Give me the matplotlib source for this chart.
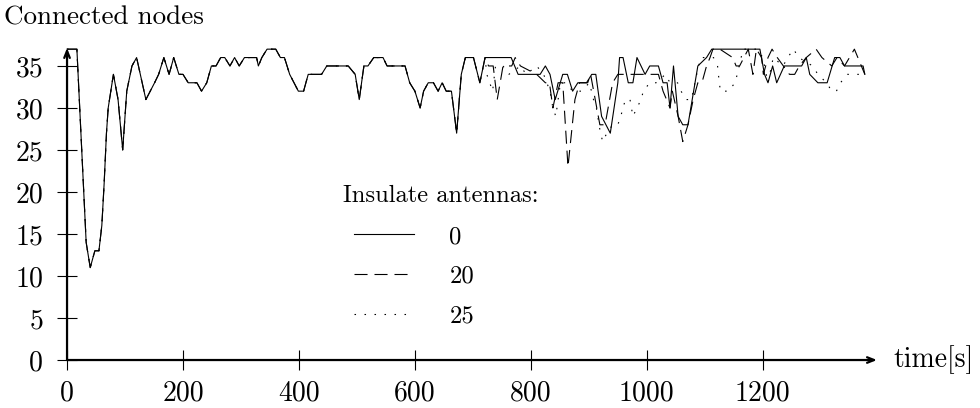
import numpy as np
import matplotlib
matplotlib.use("Agg")
import matplotlib.pyplot as plt

plt.rcParams["font.family"] = ["cmr10", "DejaVu Serif"]
plt.rcParams["mathtext.fontset"] = "cm"
plt.rcParams["axes.formatter.use_mathtext"] = True
plt.rcParams["lines.scale_dashes"] = False

# shared part: all three runs coincide until ~720 s
t_common = [0, 17, 33, 40, 48, 55, 60, 64, 68, 71, 80, 88, 96, 103, 112, 120, 136, 151, 158, 167,
            176, 184, 193, 200, 209, 224, 232, 241, 249, 257, 265, 272, 281, 289, 297, 306, 327,
            330, 336, 345, 360, 368, 375, 384, 399, 408, 416, 439, 448, 485, 497, 504, 512, 519,
            529, 545, 552, 583, 591, 600, 609, 615, 623, 632, 640, 647, 654, 663, 672, 680, 687,
            701, 712, 721]
n_common = [37, 37, 14, 11, 13, 13, 16, 21, 27, 30, 34, 31, 25, 32, 35, 36, 31, 33, 34, 36,
            34, 36, 34, 34, 33, 33, 32, 33, 35, 35, 36, 36, 35, 36, 35, 36, 36,
            35, 36, 37, 37, 36, 36, 34, 32, 32, 34, 34, 35, 35, 34, 31, 35, 35,
            36, 36, 35, 35, 33, 32, 30, 32, 33, 33, 32, 33, 32, 32, 27, 34, 36,
            36, 33, 36]

# insulate antennas = 0
t_0 = [766, 778, 816, 825, 833, 842, 855, 863, 872, 881, 896, 905, 912, 922, 937, 950, 953, 959,
       968, 976, 983, 997, 1005, 1020, 1028, 1035, 1040, 1046, 1054, 1062, 1071, 1088, 1103, 1112,
       1195, 1203, 1209, 1217, 1224, 1237, 1267, 1275, 1281, 1295, 1311, 1324, 1333, 1341, 1373, 1376]
n_0 = [36, 34, 34, 35, 34, 31, 34, 34, 32, 33, 33, 34, 34, 29, 27, 33, 36, 36,
       33, 33, 36, 34, 35, 35, 33, 33, 30, 35, 29, 28, 28, 35, 36, 37,
       37, 34, 33, 35, 33, 35, 35, 36, 34, 33, 33, 36, 36, 35, 35, 34]

# insulate antennas = 20
t_20 = [727, 735, 742, 752, 767, 773, 782, 810, 825, 832, 838, 847, 855, 864, 876, 884, 898, 903,
        911, 919, 928, 941, 950, 976, 997, 1020, 1028, 1040, 1044, 1054, 1062, 1071, 1080, 1088,
        1095, 1103, 1109, 1114, 1126, 1148, 1154, 1160, 1175, 1183, 1189, 1198, 1201, 1209, 1216,
        1225, 1246, 1255, 1263, 1275, 1292, 1302, 1319, 1328, 1341, 1358, 1376]
n_20 = [35, 35, 31, 35, 35, 36, 35, 34, 33, 33, 30, 33, 33, 23, 31, 33, 33, 34,
        31, 28, 28, 33, 34, 34, 34, 34, 32, 30, 32, 29, 26, 28, 31, 33,
        33, 35, 36, 37, 37, 36, 35, 35, 37, 34, 37, 36, 34, 36, 37,
        36, 34, 34, 35, 36, 37, 36, 35, 36, 35, 37, 34]

# insulate antennas = 25
t_25 = [724, 729, 734, 739, 752, 762, 782, 792, 810, 822, 833, 838, 843, 851, 861, 872, 887, 901,
        908, 913, 920, 924, 931, 941, 950, 955, 963, 971, 976, 983, 990, 994, 1005, 1016, 1032,
        1040, 1053, 1059, 1068, 1077, 1086, 1093, 1103, 1115, 1122, 1125, 1127, 1141, 1152, 1156,
        1166, 1178, 1191, 1200, 1209, 1218, 1235, 1243, 1253, 1262, 1286, 1295, 1310, 1319, 1327,
        1334, 1346, 1355, 1371]
n_25 = [34, 33, 32, 35, 35, 34, 35, 34, 35, 34, 32, 30, 29, 33, 33, 32, 32, 33,
        31, 30, 27, 26, 27, 28, 28, 29, 31, 31, 29, 30, 31, 32, 33, 33, 34,
        33, 33, 32, 31, 31, 34, 36, 36, 36, 35, 33, 32, 32, 33, 34,
        37, 37, 37, 36, 33, 36, 35, 36, 37, 36, 35, 34, 33, 32, 32,
        33, 34, 34, 34]

x_ticks = [0, 200, 400, 600, 800, 1000, 1200]
y_ticks = [0, 5, 10, 15, 20, 25, 30, 35]
labels = ["0", "20", "25"]

FS = 20        # tick labels, axis labels
FS_LEG = 17.7  # legend

fig = plt.figure(figsize=(9.8, 4.08), dpi=100)
ax = fig.add_axes([0.0684, 0.1176, 0.8265, 0.7648])

series = [
    (t_0, n_0, "-"),
    (t_20, n_20, (0, (9.4, 5.0))),
    (t_25, n_25, (0, (1.1, 6.1))),
]
handles = []
for t_tail, n_tail, ls in series:
    t = np.concatenate([t_common, t_tail])
    n = np.concatenate([n_common, n_tail])
    ln, = ax.plot(t, n, color="black", lw=0.8, ls=ls, clip_on=False)
    handles.append(ln)

ax.set_xlim(0, 1397)
ax.set_ylim(0, 37.14)
for s in ax.spines.values():
    s.set_visible(False)

ax.set_xticks(x_ticks)
ax.set_xticklabels([str(v) for v in x_ticks])
ax.set_yticks(y_ticks)
ax.set_yticklabels([str(v) for v in y_ticks])
ax.tick_params(direction="inout", length=14.4, width=0.8, labelsize=FS, color="black")
ax.tick_params(axis="y", pad=10)
ax.tick_params(axis="x", pad=7)

# axes with arrow heads
arrow = dict(arrowstyle="->,head_length=0.5,head_width=0.2", lw=1.6, color="black",
             shrinkA=0, shrinkB=0)
ax.annotate("", xy=(1, 0), xytext=(0, 0), xycoords="axes fraction", arrowprops=arrow)
ax.annotate("", xy=(0, 1), xytext=(0, 0), xycoords="axes fraction", arrowprops=arrow)

ax.annotate("time[s]", xy=(1, 0), xycoords="axes fraction", xytext=(11.5, 0),
            textcoords="offset points", ha="left", va="center", fontsize=FS)
fig.text(0.004, 0.939, "Connected nodes", ha="left", va="baseline", fontsize=19.5)

fig.text(0.35, 0.505, "Insulate antennas:", ha="left", va="baseline", fontsize=FS_LEG)
ax.legend(handles, labels, loc="upper left", bbox_to_anchor=(0.354, 0.43), frameon=False,
          fontsize=FS_LEG, handlelength=2.44, handletextpad=1.45, labelspacing=0.72,
          borderpad=0, borderaxespad=0)

fig.savefig("out.png", dpi=100)
